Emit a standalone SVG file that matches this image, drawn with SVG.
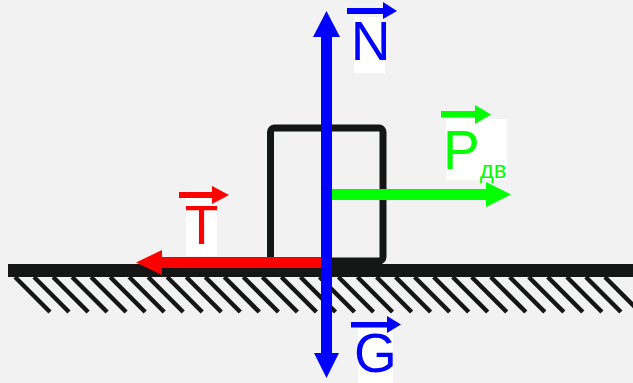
<svg xmlns="http://www.w3.org/2000/svg" width="633" height="383" viewBox="0 0 633 383">
<style>
.lbl{font-family:"Liberation Sans",Arial,sans-serif;font-size:55px}
.hatch{stroke:#151716;stroke-width:4.5}
</style>
<rect width="633" height="383" fill="#f2f2f2"/>
<g id="surface">
<rect x="8" y="264" width="625" height="13" fill="#151716"/>
<g class="hatch">
<line x1="15" y1="277" x2="50" y2="312"/><line x1="34" y1="277" x2="69" y2="312"/><line x1="53.1" y1="277" x2="88.1" y2="312"/><line x1="72.1" y1="277" x2="107.1" y2="312"/><line x1="91.1" y1="277" x2="126.1" y2="312"/><line x1="110.2" y1="277" x2="145.2" y2="312"/><line x1="129.2" y1="277" x2="164.2" y2="312"/><line x1="148.2" y1="277" x2="183.2" y2="312"/><line x1="167.2" y1="277" x2="202.2" y2="312"/><line x1="186.3" y1="277" x2="221.3" y2="312"/><line x1="205.3" y1="277" x2="240.3" y2="312"/><line x1="224.3" y1="277" x2="259.3" y2="312"/><line x1="243.4" y1="277" x2="278.4" y2="312"/><line x1="262.4" y1="277" x2="297.4" y2="312"/><line x1="281.4" y1="277" x2="316.4" y2="312"/><line x1="300.5" y1="277" x2="335.5" y2="312"/><line x1="319.5" y1="277" x2="354.5" y2="312"/><line x1="338.5" y1="277" x2="373.5" y2="312"/><line x1="357.5" y1="277" x2="392.5" y2="312"/><line x1="376.6" y1="277" x2="411.6" y2="312"/><line x1="395.6" y1="277" x2="430.6" y2="312"/><line x1="414.6" y1="277" x2="449.6" y2="312"/><line x1="433.7" y1="277" x2="468.7" y2="312"/><line x1="452.7" y1="277" x2="487.7" y2="312"/><line x1="471.7" y1="277" x2="506.7" y2="312"/><line x1="490.8" y1="277" x2="525.8" y2="312"/><line x1="509.8" y1="277" x2="544.8" y2="312"/><line x1="528.8" y1="277" x2="563.8" y2="312"/><line x1="547.8" y1="277" x2="582.8" y2="312"/><line x1="566.9" y1="277" x2="601.9" y2="312"/><line x1="585.9" y1="277" x2="620.9" y2="312"/><line x1="604.9" y1="277" x2="639.9" y2="312"/>
</g>
</g>
<g id="block">
<rect x="270.5" y="128" width="112.5" height="133" rx="4" fill="none" stroke="#151716" stroke-width="7"/>
</g>
<g id="connectors">
<g id="force-T">
<rect x="160" y="257" width="165" height="11" fill="#ff0000"/>
<polygon points="136,262.5 162,250 162,275" fill="#ff0000"/>
</g>
<g id="force-P">
<rect x="328" y="189" width="160" height="11" fill="#00ff00"/>
<polygon points="511,194.5 486,182 486,207" fill="#00ff00"/>
</g>
<g id="force-NG">
<rect x="321" y="35" width="11" height="320" fill="#0000ff"/>
<polygon points="326.5,11 313,37 340,37" fill="#0000ff"/>
<polygon points="326.5,378 314,353 339,353" fill="#0000ff"/>
</g>
</g>
<g id="label-N">
<rect x="354" y="17" width="31" height="56" fill="#ffffff"/>
<rect x="347" y="8" width="37" height="6" fill="#0000ff"/>
<polygon points="397,11 383,2 383,19" fill="#0000ff"/>
<text class="lbl" x="370.5" y="60" text-anchor="middle" fill="#0000ff">N</text>
</g>
<g id="label-P">
<rect x="446" y="119" width="61" height="61" fill="#ffffff"/>
<rect x="441" y="111" width="36" height="6.5" fill="#00ff00"/>
<polygon points="491,114.5 475,105 475,124" fill="#00ff00"/>
<text class="lbl" x="443" y="169" fill="#00ff00">P<tspan font-size="24" dy="9">дв</tspan></text>
</g>
<g id="label-T">
<rect x="186" y="198" width="31" height="58" fill="#ffffff"/>
<rect x="179" y="192" width="34" height="6" fill="#ff0000"/>
<polygon points="229,195 212,186 212,204" fill="#ff0000"/>
<text class="lbl" x="201.5" y="244" text-anchor="middle" fill="#ff0000">T</text>
</g>
<g id="label-G">
<rect x="358" y="328" width="35" height="55" fill="#ffffff"/>
<rect x="351" y="322" width="37" height="5.5" fill="#0000ff"/>
<polygon points="401,324.5 387,316 387,333" fill="#0000ff"/>
<text class="lbl" x="375.5" y="372" text-anchor="middle" fill="#0000ff">G</text>
</g>
</svg>
